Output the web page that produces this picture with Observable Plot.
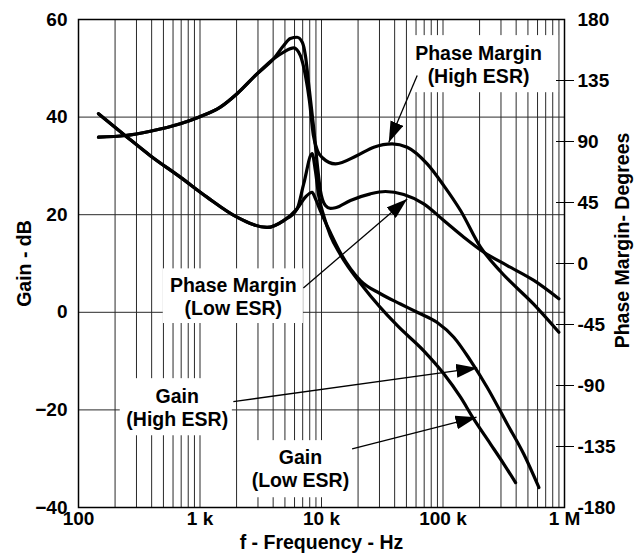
<!DOCTYPE html>
<html><head><meta charset="utf-8">
<script src="https://cdn.jsdelivr.net/npm/d3@7"></script>
<script src="https://cdn.jsdelivr.net/npm/@observablehq/plot@0.6"></script>
<style>body{margin:0;background:#fff}</style>
</head><body><div id="chart"></div>
<script>
// ---- data (frequency in Hz, gain in dB, phase in degrees) ----
const gainHighF = [146, 243, 390, 688, 1142, 2017, 3564, 4883, 6295, 7370, 8366, 8908, 9795, 11840, 14310, 20910, 30570, 44670, 61320, 89600, 122700, 168500, 231300, 338000, 463000, 615400];
const gainHighDb = [40.7, 36.2, 32.1, 27.7, 23.6, 19.5, 17.4, 18.8, 21.2, 23.6, 24.6, 23.3, 20.8, 16.3, 12.2, 6.5, 3.8, 1.7, 0.0, -2.1, -5.1, -9.9, -15.4, -22.9, -29.1, -35.9];

const gainLowF = [146, 243, 390, 688, 1142, 2017, 3564, 4883, 6295, 7136, 8366, 8908, 9484, 10427, 11840, 14310, 22260, 41950, 69470, 101500, 139400, 179400, 246200, 316800, 395600];
const gainLowDb = [40.7, 36.2, 32.1, 27.7, 23.6, 19.5, 17.4, 18.8, 21.2, 26.3, 32.5, 29.0, 23.9, 19.8, 15.7, 11.8, 5.1, -2.7, -7.9, -12.6, -17.4, -21.9, -27.0, -31.1, -34.9];

const phaseHighF = [146, 243, 390, 688, 974, 1470, 2017, 2948, 4039, 4883, 5902, 6702, 7370, 7950, 8578, 9252, 10115, 13020, 19650, 26920, 38150, 50720, 74120, 101500, 139400, 203700, 297600, 559800, 899000];
const phaseHighDeg = [93.2, 94.4, 97.6, 103.1, 107.9, 115.3, 125.2, 139.9, 151.0, 155.9, 159.1, 153.4, 138.7, 120.2, 94.4, 83.4, 78.2, 73.5, 79.7, 85.8, 88.3, 85.8, 73.5, 57.5, 39.1, 12.0, -5.9, -30.2, -50.7];

const phaseLowF = [146, 243, 390, 688, 974, 1470, 2017, 2948, 4039, 4883, 5542, 6295, 6962, 7370, 7950, 8578, 9252, 9795, 10770, 11840, 13020, 17300, 25280, 33600, 47550, 69470, 101500, 148400, 216900, 338000, 559800, 899000];
const phaseLowDeg = [93.2, 94.4, 97.6, 103.1, 107.9, 115.3, 125.2, 139.9, 151.0, 160.8, 166.0, 166.9, 163.0, 153.4, 127.6, 101.8, 72.3, 53.9, 42.8, 40.6, 41.1, 46.5, 51.4, 53.1, 50.9, 44.0, 31.7, 19.4, 8.3, -1.5, -12.5, -26.0];

// axes / ticks
const xTicks = [100, 1000, 10000, 100000, 1000000];
const xTickLabels = ["100", "1 k", "10 k", "100 k", "1 M"];
const gainTicks = [-40, -20, 0, 20, 40, 60];
const gainGrid = [-20, 0, 20, 40];
const phaseTicks = [-180, -135, -90, -45, 0, 45, 90, 135, 180];
const phaseTickMarks = [-135, -90, -45, 0, 45, 90, 135];
const gridFreqs = [200, 300, 400, 500, 600, 700, 800, 900,
  1000, 2000, 3000, 4000, 5000, 6000, 7000, 8000, 9000,
  10000, 20000, 30000, 40000, 50000, 60000, 70000, 80000, 90000,
  100000, 200000, 300000, 400000, 500000, 600000, 700000, 800000, 900000];

// annotations
const labelText = ["Phase Margin\n(High ESR)", "Phase Margin\n(Low ESR)", "Gain\n(High ESR)", "Gain\n(Low ESR)"];
const labelF = [196100, 1881, 650, 6702];
const labelDb = [50.9, 3.3, -19.5, -32.0];
const boxF1 = [51980, 498.6, 220.6, 2597];
const boxF2 = [894000, 7094, 1846, 17970];
const boxDb1 = [56.7, 8.9, -13.6, -26.3];
const boxDb2 = [45.0, -2.3, -25.3, -38.0];
const arrowF1 = [61320, 7094, 1881, 17870];
const arrowDb1 = [48.5, 5.0, -18.3, -28.0];
const arrowF2 = [35780, 50720, 191300, 188800];
const arrowDb2 = [34.8, 23.2, -11.4, -21.5];

// phase (deg, -180..180) shares the gain axis (dB, -40..60)
const phaseToDb = d => d / 3.6 + 10;
const dbToPhase = g => Math.round((g - 10) * 3.6);

const series = (fs, vs, conv) => fs.map((f, i) => ({f, v: conv ? conv(vs[i]) : vs[i]}));
const curves = [
  series(gainHighF, gainHighDb),
  series(gainLowF, gainLowDb),
  series(phaseHighF, phaseHighDeg, phaseToDb),
  series(phaseLowF, phaseLowDeg, phaseToDb)
];
const labels = labelText.map((t, i) => ({t, f: labelF[i], g: labelDb[i]}));
const boxes = boxF1.map((f, i) => ({f1: f, f2: boxF2[i], g1: boxDb1[i], g2: boxDb2[i]}));
const arrows = arrowF1.map((f, i) => ({f1: f, g1: arrowDb1[i], f2: arrowF2[i], g2: arrowDb2[i]}));
const xLabelMap = new Map(xTicks.map((t, i) => [t, xTickLabels[i]]));

const FONT = '"Liberation Sans", Arial, Helvetica, sans-serif';

const chart = Plot.plot({
  width: 639, height: 559,
  marginLeft: 78, marginRight: 75, marginTop: 19, marginBottom: 52,
  style: {fontFamily: FONT, fontWeight: "bold", fontSize: "19px", background: "white", color: "black", overflow: "visible"},
  x: {type: "log", domain: [100, 1e6]},
  y: {domain: [-40, 60]},
  marks: [
    Plot.ruleX(gridFreqs, {stroke: "#2a2a2a", strokeWidth: 1}),
    Plot.ruleY(gainGrid, {stroke: "#2a2a2a", strokeWidth: 1}),
    Plot.rect(boxes, {x1: "f1", x2: "f2", y1: "g1", y2: "g2", fill: "white"}),
    Plot.frame({stroke: "black", strokeWidth: 1.5}),
    Plot.axisX({ticks: xTicks, tickSize: 0, tickPadding: 4, tickFormat: d => xLabelMap.get(d), label: null, fontSize: 19}),
    Plot.axisY({anchor: "left", ticks: gainTicks, tickSize: 0, tickPadding: 11, label: null, fontSize: 19}),
    Plot.axisY({anchor: "right", ticks: phaseTickMarks.map(phaseToDb), tickSize: 18, dx: -9, tickFormat: () => "", label: null, stroke: "black", strokeWidth: 1}),
    Plot.axisY({anchor: "right", ticks: phaseTicks.map(phaseToDb), tickSize: 0, tickPadding: 13, tickFormat: dbToPhase, label: null, fontSize: 19}),
    ...curves.map(c => Plot.line(c, {x: "f", y: "v", curve: "monotone-x", stroke: "black", strokeWidth: 3.2, strokeLinejoin: "round"})),
    Plot.link(arrows, {x1: "f1", y1: "g1", x2: "f2", y2: "g2", stroke: "black", strokeWidth: 1.3}),
    Plot.text(labels, {x: "f", y: "g", text: "t", lineHeight: 1.18, fontSize: 19.5, fontWeight: "bold"}),
    Plot.text(["Gain - dB"], {frameAnchor: "left", textAnchor: "middle", dx: -54, rotate: -90, fontSize: 19.5, fontWeight: "bold"}),
    Plot.text(["Phase Margin- Degrees"], {frameAnchor: "right", textAnchor: "middle", dx: 58, dy: -23, rotate: -90, fontSize: 19.5, fontWeight: "bold"}),
    Plot.text(["f - Frequency - Hz"], {frameAnchor: "bottom", dy: 41, fontSize: 19.5, fontWeight: "bold"})
  ]
});

// filled arrowheads
const ns = "http://www.w3.org/2000/svg";
const defs = document.createElementNS(ns, "defs");
const marker = document.createElementNS(ns, "marker");
marker.setAttribute("id", "ahead");
marker.setAttribute("viewBox", "0 0 21 14");
marker.setAttribute("refX", "21");
marker.setAttribute("refY", "7");
marker.setAttribute("markerWidth", "21");
marker.setAttribute("markerHeight", "14");
marker.setAttribute("markerUnits", "userSpaceOnUse");
marker.setAttribute("orient", "auto");
const mp = document.createElementNS(ns, "path");
mp.setAttribute("d", "M0,0L21,7L0,14Z");
mp.setAttribute("fill", "black");
marker.appendChild(mp);
defs.appendChild(marker);
chart.insertBefore(defs, chart.firstChild);
chart.querySelectorAll('g[aria-label="link"] path').forEach(p => p.setAttribute("marker-end", "url(#ahead)"));

document.getElementById("chart").appendChild(chart);
</script></body></html>
